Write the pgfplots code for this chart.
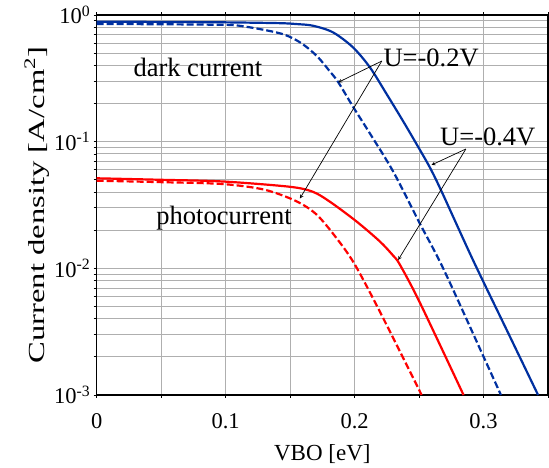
\documentclass[border=0pt]{standalone}
\usepackage{fontspec}
\setmainfont{Liberation Serif}
\usepackage{graphicx}
\usepackage{pgfplots}
\pgfplotsset{compat=1.18}
\definecolor{dblue}{RGB}{0,48,160}
\definecolor{gridg}{RGB}{175,175,175}
\begin{document}
\begin{tikzpicture}
\useasboundingbox (-96.7pt,-73pt) rectangle (452.3pt,395pt);
\begin{axis}[
  at={(0,0)}, anchor=south west,
  scale only axis, width=451.3pt, height=380pt,
  xmin=0, xmax=0.35, ymode=log, ymin=1e-3, ymax=1,
  xtick={0,0.1,0.2,0.3}, xticklabels={0,0.1,0.2,0.3},
  minor xtick={0.05,0.15,0.25,0.35},
  ytick={0.001,0.01,0.1,1},
  yticklabels={10\textsuperscript{-3},10\textsuperscript{-2},10\textsuperscript{-1},10\textsuperscript{0}},
  minor ytick={0.002,0.003,0.004,0.005,0.006,0.007,0.008,0.009,0.02,0.03,0.04,0.05,0.06,0.07,0.08,0.09,0.2,0.3,0.4,0.5,0.6,0.7,0.8,0.9},
  grid=both,
  major grid style={gridg, line width=0.9pt},
  minor grid style={gridg, line width=0.9pt},
  axis line style={line width=1.6pt},
  tick align=outside, major tick length=3pt, minor tick length=3pt,
  tick style={black, line width=0.8pt},
  xticklabel style={font=\fontsize{22.5}{26}\selectfont, yshift=-12pt},
  yticklabel style={font=\fontsize{22.5}{26}\selectfont},
  xlabel={VBO [eV]},
  ylabel={\scalebox{1.42}[1]{Current density [A/cm\textsuperscript{2}]}},
  label style={font=\fontsize{23}{27}\selectfont},
  xlabel style={yshift=-9pt},
  ylabel style={yshift=-2pt},
]
\addplot[dblue, line width=2.2pt, smooth, tension=0.5] coordinates {
(0,0.885) (0.05,0.882) (0.10,0.875) (0.142,0.862) (0.155,0.848) (0.1677,0.823)
(0.1832,0.73) (0.1987,0.556) (0.2119,0.386) (0.2248,0.238) (0.2374,0.1465)
(0.248,0.0959) (0.2583,0.0628) (0.2677,0.040) (0.2918,0.01164) (0.318,0.00326) (0.3423,0.001)};
\addplot[dblue, line width=2.2pt, dashed, dash pattern=on 7pt off 3pt, smooth, tension=0.5] coordinates {
(0,0.85) (0.05,0.845) (0.09,0.838) (0.1105,0.823) (0.1421,0.717) (0.1576,0.609) (0.1705,0.477)
(0.1808,0.359) (0.1873,0.295) (0.1989,0.188) (0.2119,0.116) (0.2299,0.0582)
(0.2506,0.0226) (0.2687,0.0100) (0.2997,0.00204) (0.3135,0.001)};
\addplot[red, line width=2.2pt, smooth, tension=0.5] coordinates {
(0,0.0514) (0.05,0.050) (0.0977,0.0485) (0.1493,0.0441) (0.1674,0.0403)
(0.1808,0.0336) (0.2016,0.0234) (0.2196,0.0163) (0.2299,0.0126) (0.2351,0.0107) (0.2506,0.00537) (0.2845,0.001)};
\addplot[red, line width=2.2pt, dashed, dash pattern=on 7pt off 3pt, smooth, tension=0.5] coordinates {
(0,0.0492) (0.05,0.0479) (0.0977,0.0463) (0.13,0.0418) (0.1545,0.0340) (0.1705,0.0266)
(0.186,0.0173) (0.2,0.0108) (0.22,0.00447) (0.252,0.001)};
\node[font=\fontsize{26.5}{30}\selectfont] at (axis cs:0.0785,0.389) {dark current};
\node[font=\fontsize{26.5}{30}\selectfont] at (axis cs:0.0988,0.025) {photocurrent};
\node[font=\fontsize{26.5}{30}\selectfont] at (axis cs:0.2594,0.458) {U=-0.2V};
\node[font=\fontsize{26.5}{30}\selectfont] at (axis cs:0.3033,0.109) {U=-0.4V};
\draw[-stealth, line width=0.7pt] (axis cs:0.2211,0.433) -- (axis cs:0.1873,0.294);
\draw[-stealth, line width=0.7pt] (axis cs:0.2211,0.433) -- (axis cs:0.1576,0.0356);
\draw[-stealth, line width=0.7pt] (axis cs:0.2863,0.0875) -- (axis cs:0.2597,0.0655);
\draw[-stealth, line width=0.7pt] (axis cs:0.2863,0.0875) -- (axis cs:0.2338,0.01165);
\end{axis}
\end{tikzpicture}
\end{document}
